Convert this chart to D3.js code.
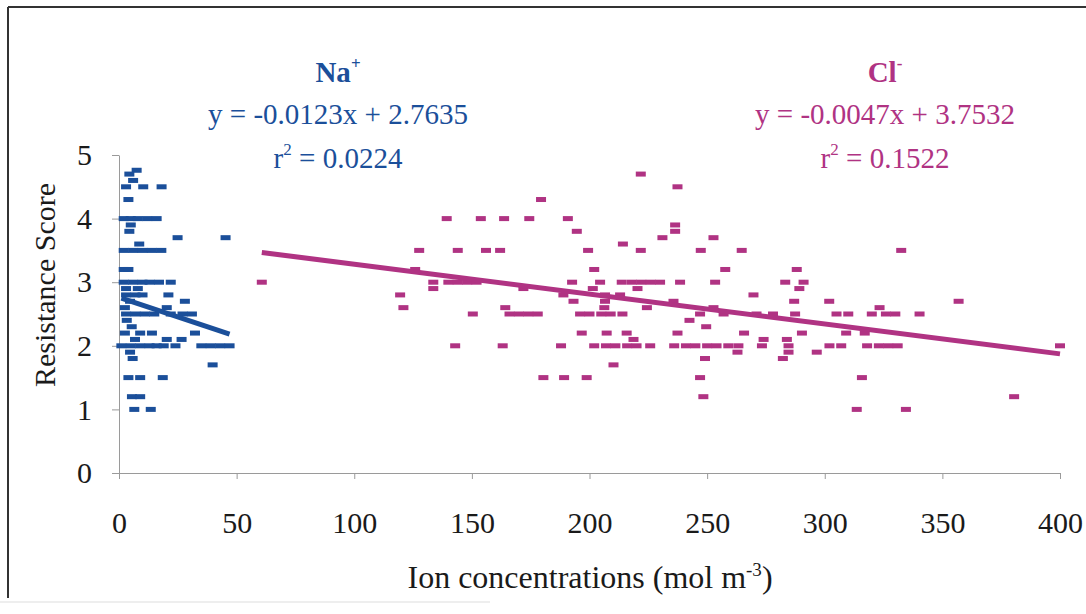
<!DOCTYPE html>
<html>
<head>
<meta charset="utf-8">
<script src="https://cdn.jsdelivr.net/npm/d3@7"></script>
<style>
  body { margin: 0; background: #fff; }
</style>
</head>
<body>
<svg id="chart" width="1086" height="614"></svg>
<script>
// values
const naPoints = [
  [7.5,4.76],[4.4,4.7],[6,4.6],[3,4.5],[10.3,4.5],[18.1,4.5],[4,4.3],
  [2,4],[5,4],[8,4],[12,4],[16,4],[5,3.9],[4.4,3.8],[24.9,3.7],[45.3,3.7],[8.6,3.6],
  [2,3.5],[6,3.5],[10,3.5],[14,3.5],[18,3.5],[2,3.2],[4,3.2],
  [2,3],[6,3],[10,3],[13,3],[17,3],[22,3],[3,2.9],[8,2.9],
  [3,2.8],[7,2.8],[10,2.8],[21,2.8],[4.7,2.7],[28,2.7],[2.5,2.6],[20.3,2.6],
  [3,2.5],[7,2.5],[11,2.5],[15,2.5],[22,2.5],[27,2.5],[31,2.5],[3.3,2.4],[5.4,2.3],
  [2.5,2.2],[9,2.2],[14,2.2],[32.3,2.2],[6.8,2.1],[20.3,2.1],[26.6,2.1],
  [1,2],[5,2],[9,2],[13,2],[16,2],[19,2],[24,2],[35,2],[39,2],[43,2],[47,2],
  [4.7,1.9],[5.8,1.8],[39.8,1.7],[4,1.5],[9,1.5],[18.6,1.5],[5.5,1.2],[9,1.2],[6.5,1],[13.5,1]
];

const clPoints = [
  [60.7,3],[119.5,2.8],[120.9,2.6],[125.9,3.2],[127.6,3.5],[133.6,3],[133.6,2.9],
  [179.4,4.3],[139.3,4],[153.8,4],[163.7,4],[174.4,4],[190.8,4],[194.6,3.8],[214.2,3.6],
  [144,3.5],[156,3.5],[162,3.5],[199.4,3.5],[202,3.2],
  [140,3],[144,3],[148,3],[152,3],[192.6,3],[204.5,3],[213.7,3],
  [201.4,2.9],[171.9,2.9],[213,2.8],[206.6,2.8],[188.9,2.8],[193.2,2.7],[206.6,2.7],
  [206.3,2.6],[164.2,2.6],
  [150.4,2.5],[166,2.5],[170,2.5],[174,2.5],[178,2.5],[196,2.5],[200,2.5],[205,2.5],[209,2.5],[214,2.5],
  [196.7,2.2],[207.3,2.2],[215.8,2.2],
  [142.9,2],[163.1,2],[187.9,2],[202,2],[207,2],[211,2],[216,2],
  [210.2,1.7],[180.4,1.5],[189.2,1.5],[198.8,1.5],
  [221.8,4.7],[237.4,4.5],[236.4,3.9],[236.4,3.8],[231,3.7],[252.7,3.7],
  [221.8,3.5],[247.3,3.5],[264.7,3.5],[257.7,3.2],[288.1,3.2],
  [218,3],[222,3],[226,3],[230,3],[238.5,3],[253.4,3],[283.2,3],[291,3],
  [220.4,2.9],[289.2,2.9],[269.7,2.8],[287,2.7],[235.7,2.7],[224.4,2.6],[252.7,2.6],
  [247,2.5],[257,2.5],[271,2.5],[278,2.5],[287.4,2.5],[242.5,2.4],[249.6,2.3],
  [237.4,2.2],[265.7,2.2],[290.3,2.2],[218.7,2.1],[274,2.1],[283.9,2.1],
  [220,2],[225.8,2],[236,2],[241,2],[245,2],[250,2],[254,2],[259,2],[263.3,2],[273.3,2],[284.6,2],
  [296.6,1.9],[262.9,1.9],[284.6,1.9],[249.1,1.8],[282.2,1.8],[247,1.5],[248.4,1.2],
  [332.5,3.5],[301.9,2.7],[356.9,2.7],[323.3,2.6],
  [305,2.5],[310,2.5],[320,2.5],[326,2.5],[330,2.5],[340.3,2.5],[309.1,2.2],[317,2.2],
  [302,2],[307,2],[318,2],[323,2],[327,2],[331,2],
  [315.8,1.5],[380.5,1.2],[313.6,1],[334.5,1],[400,2]
];

const naFit = [-0.0123, 2.7635];
const clFit = [-0.0047, 3.7532];
const naR2 = "0.0224";
const clR2 = "0.1522";

const xTicks = [0, 50, 100, 150, 200, 250, 300, 350, 400];
const yTicks = [0, 1, 2, 3, 4, 5];

const naColor = "#1b4f9a";
const clColor = "#b03383";
const axisColor = "#9a9a9a";
const serif = "'Liberation Serif', Tinos, 'DejaVu Serif', 'Noto Serif', serif";

const svg = d3.select("#chart").attr("font-family", serif);

// outer frame of the scanned figure
svg.append("line").attr("x1", 8).attr("y1", 7).attr("x2", 1086).attr("y2", 7)
  .attr("stroke", "#333").attr("stroke-width", 2);
svg.append("line").attr("x1", 8).attr("y1", 7).attr("x2", 8).attr("y2", 598)
  .attr("stroke", "#333").attr("stroke-width", 2);
svg.append("line").attr("x1", 0).attr("y1", 602).attr("x2", 490).attr("y2", 602)
  .attr("stroke", "#ddd").attr("stroke-width", 1);

const x = d3.scaleLinear().domain([0, 400]).range([119, 1060]);
const y = d3.scaleLinear().domain([0, 5]).range([473, 155]);

const yAxis = svg.append("g")
  .attr("transform", "translate(119,0)")
  .call(d3.axisLeft(y).tickValues(yTicks).tickSize(7).tickSizeOuter(0).tickPadding(20).tickFormat(d3.format("d")));

const xAxis = svg.append("g")
  .attr("transform", "translate(0,473)")
  .call(d3.axisBottom(x).tickValues(xTicks).tickSize(6).tickSizeOuter(0).tickPadding(33).tickFormat(d3.format("d")));

[xAxis, yAxis].forEach(function(g) {
  g.attr("font-family", serif).attr("font-size", 30);
  g.select(".domain").attr("stroke", axisColor);
  g.selectAll(".tick line").attr("stroke", axisColor);
  g.selectAll(".tick text").attr("fill", "#1a1a1a");
});

// axis titles
svg.append("text")
  .attr("transform", "translate(55,285) rotate(-90)")
  .attr("text-anchor", "middle")
  .attr("font-size", 30).attr("fill", "#1a1a1a")
  .text("Resistance Score");

let xt = svg.append("text")
  .attr("x", 590).attr("y", 588)
  .attr("text-anchor", "middle")
  .attr("font-size", 32).attr("fill", "#1a1a1a");
xt.append("tspan").text("Ion concentrations (mol m");
xt.append("tspan").attr("dy", -12).attr("font-size", 19).text("-3");
xt.append("tspan").attr("dy", 12).text(")");

// markers
function drawPoints(points, color) {
  svg.append("g").selectAll("rect")
    .data(points)
    .enter()
    .append("rect")
    .attr("x", d => x(d[0]) - 5)
    .attr("y", d => y(d[1]) - 2.5)
    .attr("width", 10)
    .attr("height", 5)
    .attr("fill", color);
}
drawPoints(naPoints, naColor);
drawPoints(clPoints, clColor);

// linear trendlines over the data range
function drawTrend(points, fit, color) {
  let ext = d3.extent(points, d => d[0]);
  svg.append("line")
    .attr("x1", x(ext[0])).attr("y1", y(fit[0] * ext[0] + fit[1]))
    .attr("x2", x(ext[1])).attr("y2", y(fit[0] * ext[1] + fit[1]))
    .attr("stroke", color)
    .attr("stroke-width", 5);
}
drawTrend(naPoints, naFit, naColor);
drawTrend(clPoints, clFit, clColor);

// equation labels
function drawLabel(cx, color, ion, charge, fit, r2) {
  let g = svg.append("g").attr("fill", color).attr("text-anchor", "middle");

  let t1 = g.append("text").attr("x", cx).attr("y", 82)
    .attr("font-size", 29).attr("font-weight", "bold");
  t1.append("tspan").text(ion);
  t1.append("tspan").attr("dy", -13).attr("font-size", 17).text(charge);

  g.append("text").attr("x", cx).attr("y", 124)
    .attr("font-size", 29)
    .text("y = " + fit[0].toFixed(4) + "x + " + fit[1].toFixed(4));

  let t3 = g.append("text").attr("x", cx).attr("y", 168).attr("font-size", 29);
  t3.append("tspan").text("r");
  t3.append("tspan").attr("dy", -13).attr("font-size", 17).text("2");
  t3.append("tspan").attr("dy", 13).text(" = " + r2);
}
drawLabel(338, naColor, "Na", "+", naFit, naR2);
drawLabel(885, clColor, "Cl", "-", clFit, clR2);
</script>
</body>
</html>
